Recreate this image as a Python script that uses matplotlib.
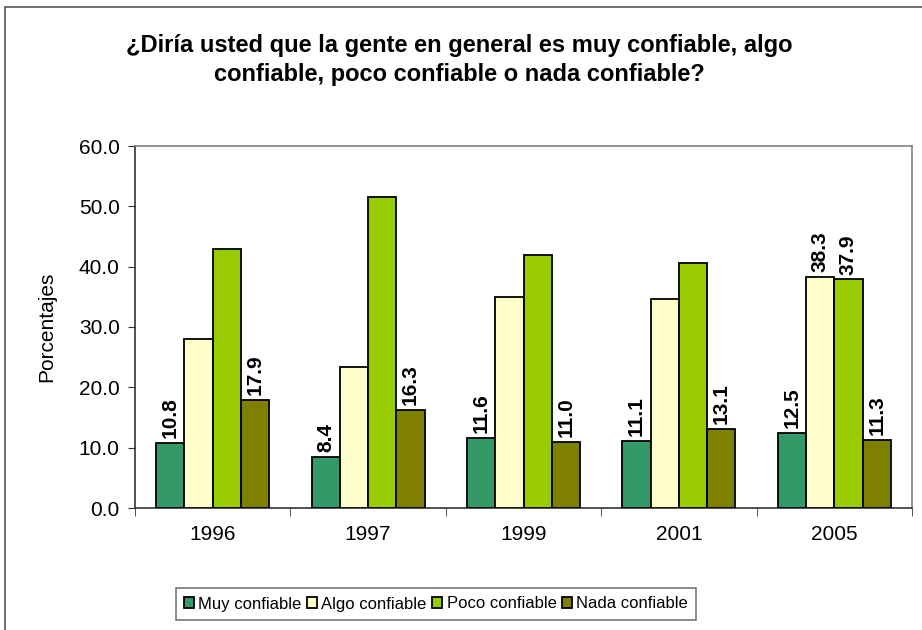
import matplotlib
import numpy as np

matplotlib.use("Agg")
import matplotlib.pyplot as plt
from matplotlib.patches import Rectangle

years = ["1996", "1997", "1999", "2001", "2005"]
series = ["Muy confiable", "Algo confiable", "Poco confiable", "Nada confiable"]
muy = [10.8, 8.4, 11.6, 11.1, 12.5]
algo = [28.0, 23.4, 35.0, 34.7, 38.3]
poco = [43.0, 51.6, 42.0, 40.6, 37.9]
nada = [17.9, 16.3, 11.0, 13.1, 11.3]
colors = ["#339966", "#FFFFCC", "#99CC00", "#808000"]

# which bars carry a data label (series index, year index)
labelled = [(0, i) for i in range(5)] + [(3, i) for i in range(5)] + [(1, 4), (2, 4)]

plt.rcParams["font.family"] = ["Liberation Sans", "DejaVu Sans"]

fig = plt.figure(figsize=(9.22, 6.3), dpi=100)
fig.patches.append(Rectangle((5 / 922, -0.1), 1.2, 1.1 - 7 / 630, transform=fig.transFigure,
                             fill=False, edgecolor="#555555", lw=1.2, clip_on=False))
ax = fig.add_axes([135 / 922, 122 / 630, 777 / 922, 362 / 630])

values = [muy, algo, poco, nada]
x = np.arange(len(years))
w = 1 / 5.5
for k, (vals, c, name) in enumerate(zip(values, colors, series)):
    pos = x + (k - 1.5) * w
    ax.bar(pos, vals, w, color=c, edgecolor="black", lw=1.3, label=name, zorder=3)
    for i, v in enumerate(vals):
        if (k, i) in labelled:
            ax.text(pos[i], v + 0.8, f"{v:.1f}", rotation=90, ha="center", va="bottom",
                    fontsize=15, fontweight="bold")

ax.set_xlim(-0.5, len(years) - 0.5)
ax.set_ylim(0, 60)
ax.set_yticks(np.arange(0, 61, 10))
ax.set_yticklabels([f"{t:.1f}" for t in np.arange(0, 61, 10)], fontsize=15)
ax.set_xticks(x)
ax.set_xticklabels(years, fontsize=15)
ax.set_xticks(np.arange(-0.5, len(years)), minor=True)
ax.tick_params(axis="x", which="major", length=0, pad=12)
ax.tick_params(axis="x", which="minor", length=6, color="#333333")
ax.tick_params(axis="y", length=5, pad=6, color="#333333")
ax.set_ylabel("Porcentajes", fontsize=15, labelpad=16)

for side in ["top", "right"]:
    ax.spines[side].set_color("#808080")
    ax.spines[side].set_linewidth(1.2)
for side in ["left", "bottom"]:
    ax.spines[side].set_color("#333333")
    ax.spines[side].set_linewidth(1.2)

fig.text(459 / 922, 1 - 60 / 630, "¿Diría usted que la gente en general es muy confiable, algo\n"
         "confiable, poco confiable o nada confiable?", ha="center", va="center",
         fontsize=17, fontweight="bold", linespacing=1.35)

leg = fig.legend(loc="center", bbox_to_anchor=(436 / 922, 1 - 604 / 630), ncol=4, fontsize=12,
                 frameon=True, fancybox=False, edgecolor="#555555", handlelength=0.6,
                 handleheight=0.6, handletextpad=0.25, columnspacing=0.35, borderpad=0.5,
                 borderaxespad=0)
leg.get_frame().set_linewidth(1.2)

fig.savefig("out.png", dpi=100)
